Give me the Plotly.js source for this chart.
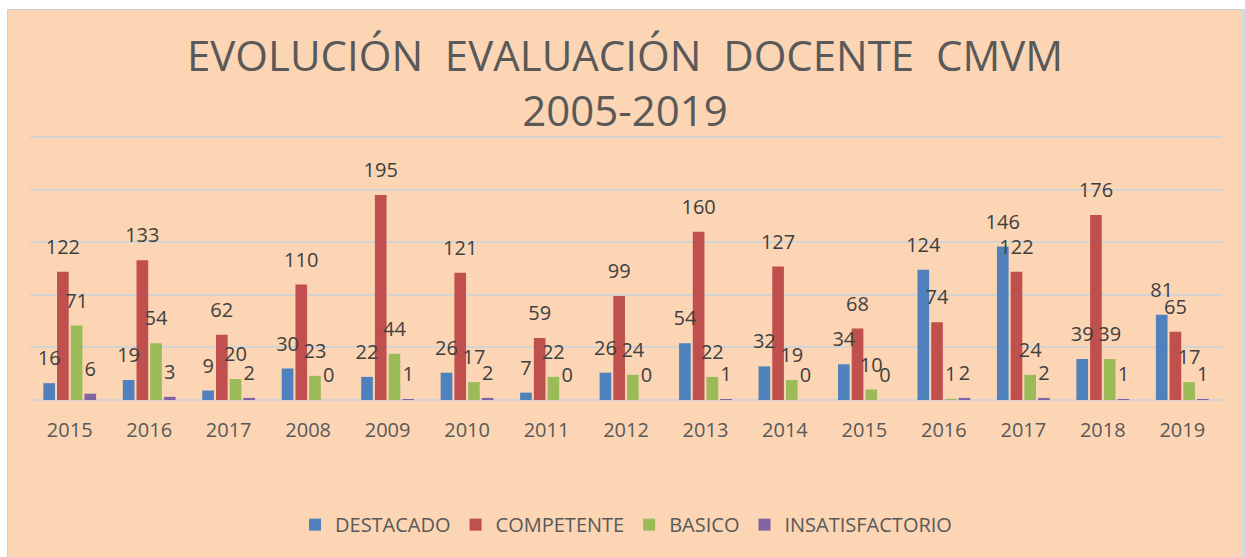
<!DOCTYPE html>
<html><head><meta charset="utf-8">
<script src="https://cdn.plot.ly/plotly-3.0.1.min.js"></script>
<style>
html,body{margin:0;padding:0;background:#ffffff;width:1245px;height:557px;overflow:hidden;}
#wrap{position:absolute;left:7px;top:9px;width:1234px;height:548px;border-left:1px solid #d0d0d0;border-top:1px solid #d0d0d0;border-right:3px solid #d6dce4;background:#fcd5b4;}
#chart{position:absolute;left:0;top:0;width:1234px;height:548px;}
</style></head>
<body><div id="wrap"><div id="chart"></div></div>
<script>
const categories = ['2015','2016','2017','2008','2009','2010','2011','2012','2013','2014','2015','2016','2017','2018','2019'];
const destacado = [16,19,9,30,22,26,7,26,54,32,34,124,146,39,81];
const competente = [122,133,62,110,195,121,59,99,160,127,68,74,122,176,65];
const basico = [71,54,20,23,44,17,22,24,22,19,10,1,24,39,17];
const insatisfactorio = [6,3,2,0,1,2,0,0,1,0,0,2,2,1,1];
const seriesNames = ['DESTACADO','COMPETENTE','BASICO','INSATISFACTORIO'];
const seriesColors = ['#4f81bd','#c0504d','#9bbb59','#8064a2'];
const seriesValues = [destacado, competente, basico, insatisfactorio];

const xs = categories.map((c,i)=>i);
const FONT = 'Open Sans, sans-serif';
const traces = [];
seriesValues.forEach((vals,k)=>{
  traces.push({type:'bar', x:xs, y:vals, name:seriesNames[k],
    marker:{color:seriesColors[k]}, offsetgroup:'g'+k, alignmentgroup:'a',
    hoverinfo:'x+y'});
});
seriesValues.forEach((vals,k)=>{
  traces.push({type:'scatter', mode:'markers+text', x:xs, y:vals, text:vals.map(String),
    textposition:'top center', textfont:{family:FONT, size:20, color:'#404040'},
    marker:{size:19, opacity:0}, offsetgroup:'g'+k, alignmentgroup:'a',
    showlegend:false, hoverinfo:'skip', cliponaxis:false});
});

const layout = {
  width:1234, height:548,
  paper_bgcolor:'#fcd5b4', plot_bgcolor:'#fcd5b4',
  margin:{l:22, r:20, t:122, b:158},
  barmode:'group', bargap:0.31, bargroupgap:0.15,
  scattermode:'group', scattergap:0.31,
  title:{text:'EVOLUCIÓN  EVALUACIÓN  DOCENTE  CMVM<br>2005-2019', x:0.5, xanchor:'center',
    yref:'container', y:0.888, yanchor:'top',
    font:{family:FONT, size:42, color:'#595959'}},
  xaxis:{range:[-0.5,14.5], tickmode:'array', tickvals:xs, ticktext:categories,
    showgrid:false, zeroline:false, showline:false, ticks:'',
    tickfont:{family:FONT, size:20, color:'#595959'}, ticklabelstandoff:16, fixedrange:true},
  yaxis:{range:[0,255], tickmode:'linear', tick0:0, dtick:50, showticklabels:false,
    showgrid:true, gridcolor:'#d3d3d3', gridwidth:2,
    zeroline:true, zerolinecolor:'#d3d3d3', zerolinewidth:2, fixedrange:true},
  legend:{orientation:'h', x:0.5, xanchor:'center', y:-0.465, yanchor:'middle',
    font:{family:FONT, size:20, color:'#595959'}, bgcolor:'rgba(0,0,0,0)', itemwidth:30},
  showlegend:true
};
Plotly.newPlot('chart', traces, layout, {displayModeBar:false, staticPlot:true});
</script></body></html>
